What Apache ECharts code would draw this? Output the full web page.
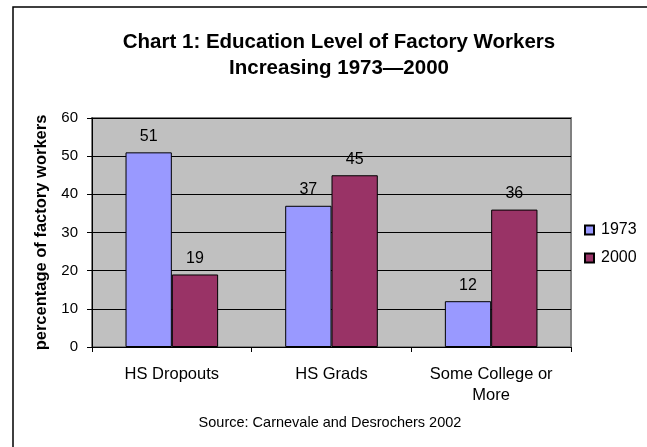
<!DOCTYPE html>
<html>
<head>
<meta charset="utf-8">
<script src="https://cdn.jsdelivr.net/npm/echarts@6/dist/echarts.min.js"></script>
<style>html,body{margin:0;padding:0;background:#fff;}#c{width:647px;height:447px;}</style>
</head>
<body>
<div id="c"></div>
<script>
const categories = ['HS Dropouts', 'HS Grads', 'Some College or\nMore'];
const series1973 = [51, 37, 12];
const series2000 = [19, 45, 36];
const yTicks = [0, 10, 20, 30, 40, 50, 60];
const seriesNames = ['1973', '2000'];

const FONT = '"Liberation Sans", Arial, sans-serif';
const chart = echarts.init(document.getElementById('c'));
const labelStyle = { show: true, position: 'top', distance: 8, color: '#000', fontFamily: FONT, fontSize: 16 };
chart.setOption({
  backgroundColor: '#fff',
  animation: false,
  title: {
    text: 'Chart 1: Education Level of Factory Workers\nIncreasing 1973\u20142000',
    left: 334, textAlign: 'center', top: 24,
    textStyle: { fontFamily: FONT, fontSize: 20.5, fontWeight: 'bold', color: '#000', lineHeight: 26 }
  },
  graphic: [
    { type: 'rect', shape: { x: 13, y: 7, width: 700, height: 500 }, style: { fill: 'none', stroke: '#000', lineWidth: 1.5 }, z: 0 },
    { type: 'rect', shape: { x: 92, y: 118, width: 479, height: 229 }, style: { fill: '#C0C0C0', stroke: '#808080', lineWidth: 2 }, z: -1 },
    { type: 'text', style: { text: 'Source: Carnevale and Desrochers 2002', x: 330, y: 423, textAlign: 'center', textVerticalAlign: 'middle', fontFamily: FONT, fontSize: 14.5, fill: '#000' } }
  ],
  legend: {
    orient: 'vertical', left: 579, top: 217,
    itemWidth: 9, itemHeight: 9, itemGap: 12,
    icon: 'rect',
    data: seriesNames,
    textStyle: { fontFamily: FONT, fontSize: 16, color: '#000', padding: [0, 0, 0, 2] }
  },
  grid: { left: 92, top: 118, right: 76, bottom: 100, containLabel: false },
  xAxis: {
    type: 'category', data: categories,
    axisLine: { show: true, lineStyle: { color: '#000', width: 1 } },
    axisTick: { show: true, length: 5, lineStyle: { color: '#000' } },
    axisLabel: { fontFamily: FONT, fontSize: 16.5, color: '#000', margin: 17, lineHeight: 21, interval: 0 }
  },
  yAxis: {
    type: 'value', min: 0, max: 60, interval: 10,
    name: 'percentage of factory workers', nameLocation: 'middle', nameGap: 42, nameRotate: 90,
    nameTextStyle: { fontFamily: FONT, fontSize: 16.5, fontWeight: 'bold', color: '#000' },
    axisLine: { show: true, lineStyle: { color: '#000', width: 1 } },
    axisTick: { show: true, length: 5, lineStyle: { color: '#000' } },
    axisLabel: { fontFamily: FONT, fontSize: 15, color: '#000', margin: 14,
      formatter: v => yTicks.includes(v) ? String(v) : '' },
    splitLine: { show: true, lineStyle: { color: '#000', width: 1 } }
  },
  series: [
    { name: seriesNames[0], type: 'bar', data: series1973, barGap: '0%', barCategoryGap: '42%',
      itemStyle: { color: '#9999FF', borderColor: '#000', borderWidth: 1 }, label: labelStyle },
    { name: seriesNames[1], type: 'bar', data: series2000,
      itemStyle: { color: '#993366', borderColor: '#000', borderWidth: 1 }, label: labelStyle }
  ]
});
</script>
</body>
</html>
